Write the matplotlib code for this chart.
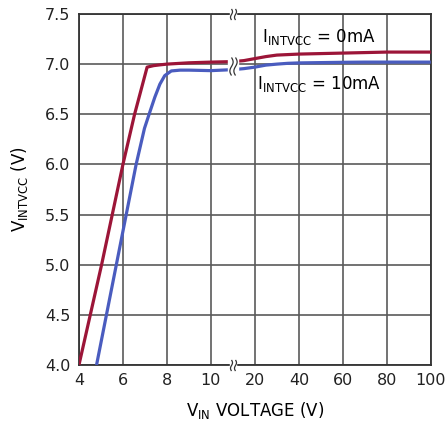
import numpy as np
import matplotlib
matplotlib.use("Agg")
import matplotlib.pyplot as plt
from matplotlib.path import Path

plt.rcParams['font.family'] = ['Liberation Sans Narrow', 'DejaVu Sans']
plt.rcParams['mathtext.fontset'] = 'custom'
plt.rcParams['mathtext.rm'] = 'Liberation Sans Narrow'

# low range (4..11 V), left part of the broken axis
vin_lo_0 = [4.0, 5.03, 6.0, 6.53, 7.1, 7.4, 7.7, 8.0, 9.0, 10.0, 11.0]
vcc_lo_0 = [4.0, 5.0, 6.0, 6.5, 6.97, 6.985, 6.993, 7.0, 7.013, 7.02, 7.025]
vin_lo_10 = [4.8, 5.25, 5.7, 6.15, 6.6, 6.98, 7.22, 7.45, 7.68, 7.9, 8.2, 8.6, 9.0, 10.0, 11.0]
vcc_lo_10 = [4.0, 4.5, 5.0, 5.5, 6.0, 6.36, 6.52, 6.67, 6.8, 6.885, 6.932, 6.94, 6.94, 6.935, 6.945]

# high range (10..100 V), right part
vin_hi = [10, 15, 20, 25, 30, 35, 40, 50, 60, 70, 80, 90, 100]
vcc_hi_0 = [7.025, 7.035, 7.055, 7.075, 7.09, 7.095, 7.10, 7.105, 7.11, 7.115, 7.12, 7.12, 7.12]
vcc_hi_10 = [6.945, 6.955, 6.97, 6.99, 7.0, 7.008, 7.012, 7.015, 7.018, 7.02, 7.02, 7.02, 7.02]

lo_ticks = [4, 6, 8, 10]
hi_ticks = [20, 40, 60, 80, 100]
y_ticks = [4.0, 4.5, 5.0, 5.5, 6.0, 6.5, 7.0, 7.5]

red = '#9c1538'
blue = '#4a5cbf'
grid_c = '#5a5a5a'

fig = plt.figure(figsize=(4.46, 4.23), dpi=100)
left, bottom, width, height = 0.177, 0.137, 0.789, 0.830
w_lo = width * 3.5 / 8
ax1 = fig.add_axes([left, bottom, w_lo, height])
ax2 = fig.add_axes([left + w_lo, bottom, width - w_lo, height])

ax1.plot(vin_lo_0, vcc_lo_0, color=red, lw=2.3, solid_capstyle='butt', zorder=3)
ax1.plot(vin_lo_10, vcc_lo_10, color=blue, lw=2.3, solid_capstyle='butt', zorder=3)
ax2.plot(vin_hi, vcc_hi_0, color=red, lw=2.3, solid_capstyle='butt', zorder=3)
ax2.plot(vin_hi, vcc_hi_10, color=blue, lw=2.3, solid_capstyle='butt', zorder=3)

ax1.set_xlim(4, 11)
ax2.set_xlim(10, 100)
for ax in (ax1, ax2):
    ax.set_ylim(4.0, 7.5)
    ax.set_yticks(y_ticks)
    ax.grid(True, color=grid_c, lw=1.2)
    ax.tick_params(length=0, labelsize=11.5, pad=6, colors='#222222')
    for s in ax.spines.values():
        s.set_color('#333333')
        s.set_linewidth(1.3)
ax1.set_xticks(lo_ticks)
ax2.set_xticks(hi_ticks)
ax1.set_yticklabels([f'{v:.1f}' for v in y_ticks])
ax2.set_yticklabels([])
ax1.spines['right'].set_visible(False)
ax2.spines['left'].set_visible(False)

# break marks
t = np.linspace(-1, 1, 40)
wig = Path(np.column_stack([0.18 * np.sin(t * np.pi), t]))
gap = Path([(-0.5, -1), (0.5, -1), (0.5, 1), (-0.5, 1), (-0.5, -1)], closed=True)


def brk(y, size):
    ax2.plot([10], [y], marker=gap, ms=size, mfc='white', mec='white', clip_on=False, zorder=5)
    for dx in (-1.6, 1.6):
        ax2.plot([10], [y], marker=wig, ms=size, mfc='none', mec='#333333', mew=0.9,
                 clip_on=False, zorder=6, transform=ax2.transData +
                 matplotlib.transforms.ScaledTranslation(dx / 72, 0, fig.dpi_scale_trans))


brk(7.5, 8)
brk(4.0, 8)
brk(6.985, 13)

ax2.text(0.435, 0.935, r'$\mathregular{I_{INTVCC}}$ = 0mA', transform=ax2.transAxes,
         ha='center', va='center', fontsize=12)
ax2.text(0.435, 0.80, r'$\mathregular{I_{INTVCC}}$ = 10mA', transform=ax2.transAxes,
         ha='center', va='center', fontsize=12)

fig.text(0.043, bottom + height / 2, r'$\mathregular{V_{INTVCC}}$ (V)', rotation=90,
         ha='center', va='center', fontsize=12)
fig.text(left + width / 2, 0.03, r'$\mathregular{V_{IN}}$ VOLTAGE (V)',
         ha='center', va='center', fontsize=12)

fig.savefig('out.png', dpi=100)
